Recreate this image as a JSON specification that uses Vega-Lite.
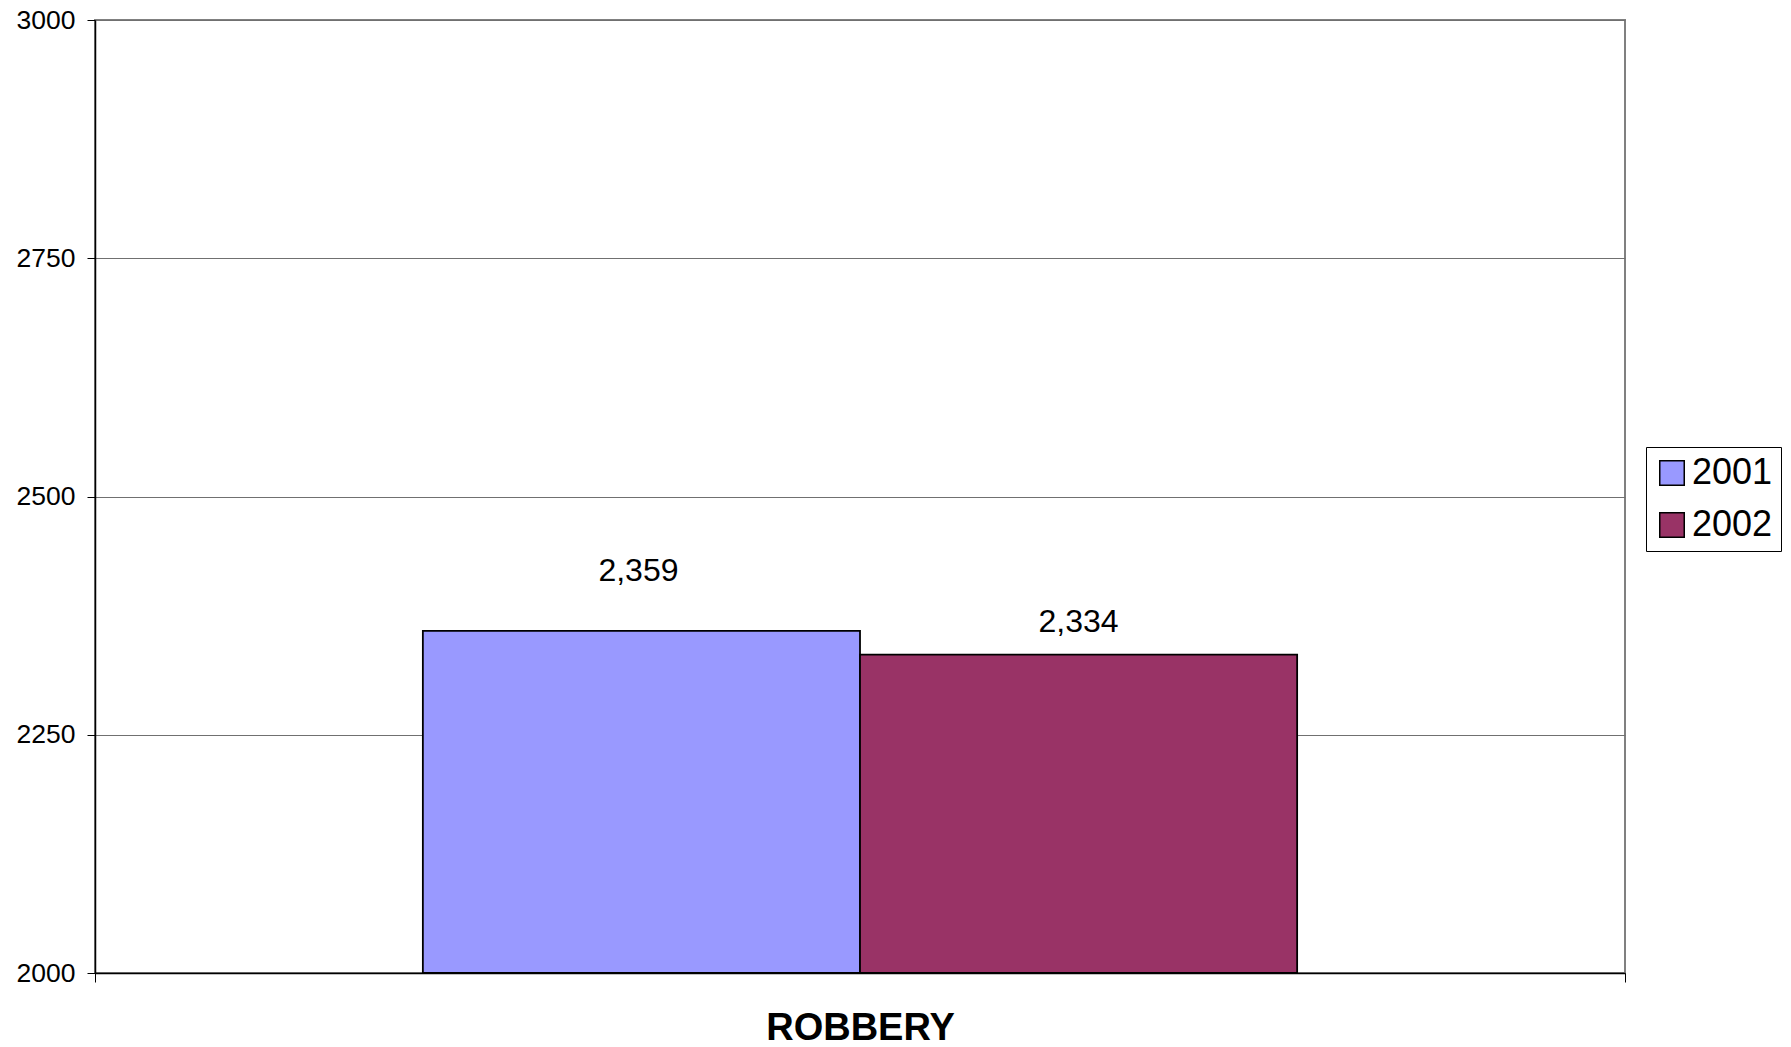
{
  "$schema": "https://vega.github.io/schema/vega-lite/v6.json",
  "autosize": {"type": "none"},
  "padding": {"left": 95, "top": 20, "right": 166, "bottom": 74},
  "width": 1530,
  "height": 953,
  "background": "white",
  "config": {
    "font": "Liberation Sans",
    "view": {"stroke": "#808080", "strokeWidth": 2}
  },
  "data": {
    "values": [
      {"category": "ROBBERY", "year": "2001", "value": 2359},
      {"category": "ROBBERY", "year": "2002", "value": 2334}
    ]
  },
  "encoding": {
    "x": {
      "field": "category",
      "type": "nominal",
      "scale": {"paddingInner": 0, "paddingOuter": 0},
      "axis": {
        "title": null,
        "labelAngle": 0,
        "labelFont": "Liberation Sans",
        "labelFontSize": 38,
        "labelFontWeight": "bold",
        "labelColor": "black",
        "labelLimit": 0,
        "labelPadding": 27,
        "tickBand": "extent",
        "tickSize": 9,
        "tickColor": "black",
        "domainColor": "black",
        "domainWidth": 1.5,
        "grid": false
      }
    },
    "xOffset": {
      "field": "year",
      "type": "nominal",
      "scale": {"paddingInner": 0, "paddingOuter": 0.75}
    },
    "y": {
      "field": "value",
      "type": "quantitative",
      "scale": {"domain": [2000, 3000], "zero": false, "nice": false},
      "axis": {
        "title": null,
        "values": [2000, 2250, 2500, 2750, 3000],
        "format": "d",
        "labelFont": "Liberation Sans",
        "labelFontSize": 26.5,
        "labelColor": "black",
        "labelPadding": 12,
        "tickSize": 8,
        "tickColor": "black",
        "domainColor": "black",
        "domainWidth": 1.5,
        "grid": true,
        "gridColor": "#707070",
        "gridWidth": 1.2
      }
    }
  },
  "layer": [
    {
      "mark": {"type": "bar", "stroke": "black", "strokeWidth": 1.8},
      "encoding": {
        "y2": {"datum": 2000},
        "color": {
          "field": "year",
          "type": "nominal",
          "scale": {"domain": ["2001", "2002"], "range": ["#9999FF", "#993366"]},
          "legend": {
            "title": null,
            "orient": "none",
            "legendX": 1551,
            "legendY": 427,
            "symbolType": "square",
            "symbolSize": 600,
            "symbolStrokeColor": "black",
            "symbolStrokeWidth": 1.5,
            "labelFont": "Liberation Sans",
            "labelFontSize": 36,
            "labelColor": "black",
            "labelOffset": 2,
            "rowPadding": 16,
            "padding": 8,
            "strokeColor": "black",
            "fillColor": "white"
          }
        }
      }
    },
    {
      "transform": [{"filter": "datum.year == '2001'"}],
      "mark": {"type": "text", "fontSize": 32, "font": "Liberation Sans", "color": "black", "dy": -60, "dx": -3},
      "encoding": {"text": {"field": "value", "type": "quantitative", "format": ","}}
    },
    {
      "transform": [{"filter": "datum.year == '2002'"}],
      "mark": {"type": "text", "fontSize": 32, "font": "Liberation Sans", "color": "black", "dy": -33},
      "encoding": {"text": {"field": "value", "type": "quantitative", "format": ","}}
    }
  ]
}
